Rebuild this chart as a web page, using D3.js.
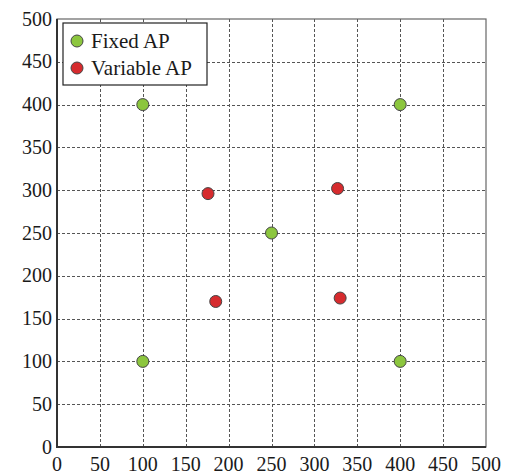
<!DOCTYPE html>
<html>
<head>
<meta charset="utf-8">
<script src="https://cdn.jsdelivr.net/npm/d3@7"></script>
<style>
    body { margin: 0; background: #fff; }
    svg { display: block; font-family: 'Liberation Serif', 'Times New Roman', serif; }
</style>
</head>
<body>
<svg id="chart" width="511" height="476"></svg>
<script>
    // data
    const fixedX = [100, 400, 250, 100, 400];
    const fixedY = [400, 400, 250, 100, 100];
    const variableX = [176, 327, 185, 330];
    const variableY = [296, 302, 170, 174];
    const xTicks = [0, 50, 100, 150, 200, 250, 300, 350, 400, 450, 500];
    const yTicks = [0, 50, 100, 150, 200, 250, 300, 350, 400, 450, 500];
    const seriesNames = ["Fixed AP", "Variable AP"];
    const seriesColors = ["#8cc63e", "#d62b2e"];

    const plotLeft = 57, plotRight = 486, plotTop = 19, plotBottom = 447;
    const svg = d3.select("#chart");

    const x = d3.scaleLinear().domain([0, 500]).range([plotLeft, plotRight]);
    const y = d3.scaleLinear().domain([0, 500]).range([plotBottom, plotTop]);

    // grid
    const grid = svg.append("g")
        .attr("stroke", "#555")
        .attr("stroke-width", 1)
        .attr("stroke-dasharray", "3,2");
    xTicks.slice(1, -1).forEach(t => {
        grid.append("line")
            .attr("x1", Math.round(x(t)) + 0.5).attr("x2", Math.round(x(t)) + 0.5)
            .attr("y1", plotTop).attr("y2", plotBottom);
    });
    yTicks.slice(1, -1).forEach(t => {
        grid.append("line")
            .attr("y1", Math.round(y(t)) + 0.5).attr("y2", Math.round(y(t)) + 0.5)
            .attr("x1", plotLeft).attr("x2", plotRight);
    });

    // frame
    svg.append("rect")
        .attr("x", plotLeft).attr("y", plotTop)
        .attr("width", plotRight - plotLeft).attr("height", plotBottom - plotTop)
        .attr("fill", "none").attr("stroke", "#666").attr("stroke-width", 1.2);
    svg.append("path")
        .attr("d", `M${plotLeft},${plotTop}V${plotBottom}H${plotRight}`)
        .attr("fill", "none").attr("stroke", "#333").attr("stroke-width", 2);

    // tick labels
    svg.append("g").selectAll("text").data(xTicks).join("text")
        .attr("x", d => x(d)).attr("y", 471)
        .attr("text-anchor", "middle")
        .attr("font-size", 20).attr("fill", "#1a1a1a")
        .text(d => d);
    svg.append("g").selectAll("text").data(yTicks).join("text")
        .attr("x", 52).attr("y", d => y(d) + 6.5)
        .attr("text-anchor", "end")
        .attr("font-size", 20).attr("fill", "#1a1a1a")
        .text(d => d);

    // points
    const fixed = fixedX.map((v, i) => ({ x: v, y: fixedY[i] }));
    const variable = variableX.map((v, i) => ({ x: v, y: variableY[i] }));
    [fixed, variable].forEach((pts, k) => {
        svg.append("g").selectAll("circle").data(pts).join("circle")
            .attr("cx", d => x(d.x)).attr("cy", d => y(d.y))
            .attr("r", 6)
            .attr("fill", seriesColors[k])
            .attr("stroke", "#444").attr("stroke-width", 1);
    });

    // legend
    const legend = svg.append("g");
    legend.append("rect")
        .attr("x", 63).attr("y", 23).attr("width", 144).attr("height", 62)
        .attr("fill", "#fff").attr("stroke", "#222").attr("stroke-width", 1.2);
    seriesNames.forEach((name, i) => {
        legend.append("circle")
            .attr("cx", 77).attr("cy", 41 + i * 27).attr("r", 6)
            .attr("fill", seriesColors[i]).attr("stroke", "#444").attr("stroke-width", 1);
        legend.append("text")
            .attr("x", 91).attr("y", 48 + i * 27)
            .attr("font-size", 21).attr("fill", "#1a1a1a")
            .text(name);
    });
</script>
</body>
</html>
